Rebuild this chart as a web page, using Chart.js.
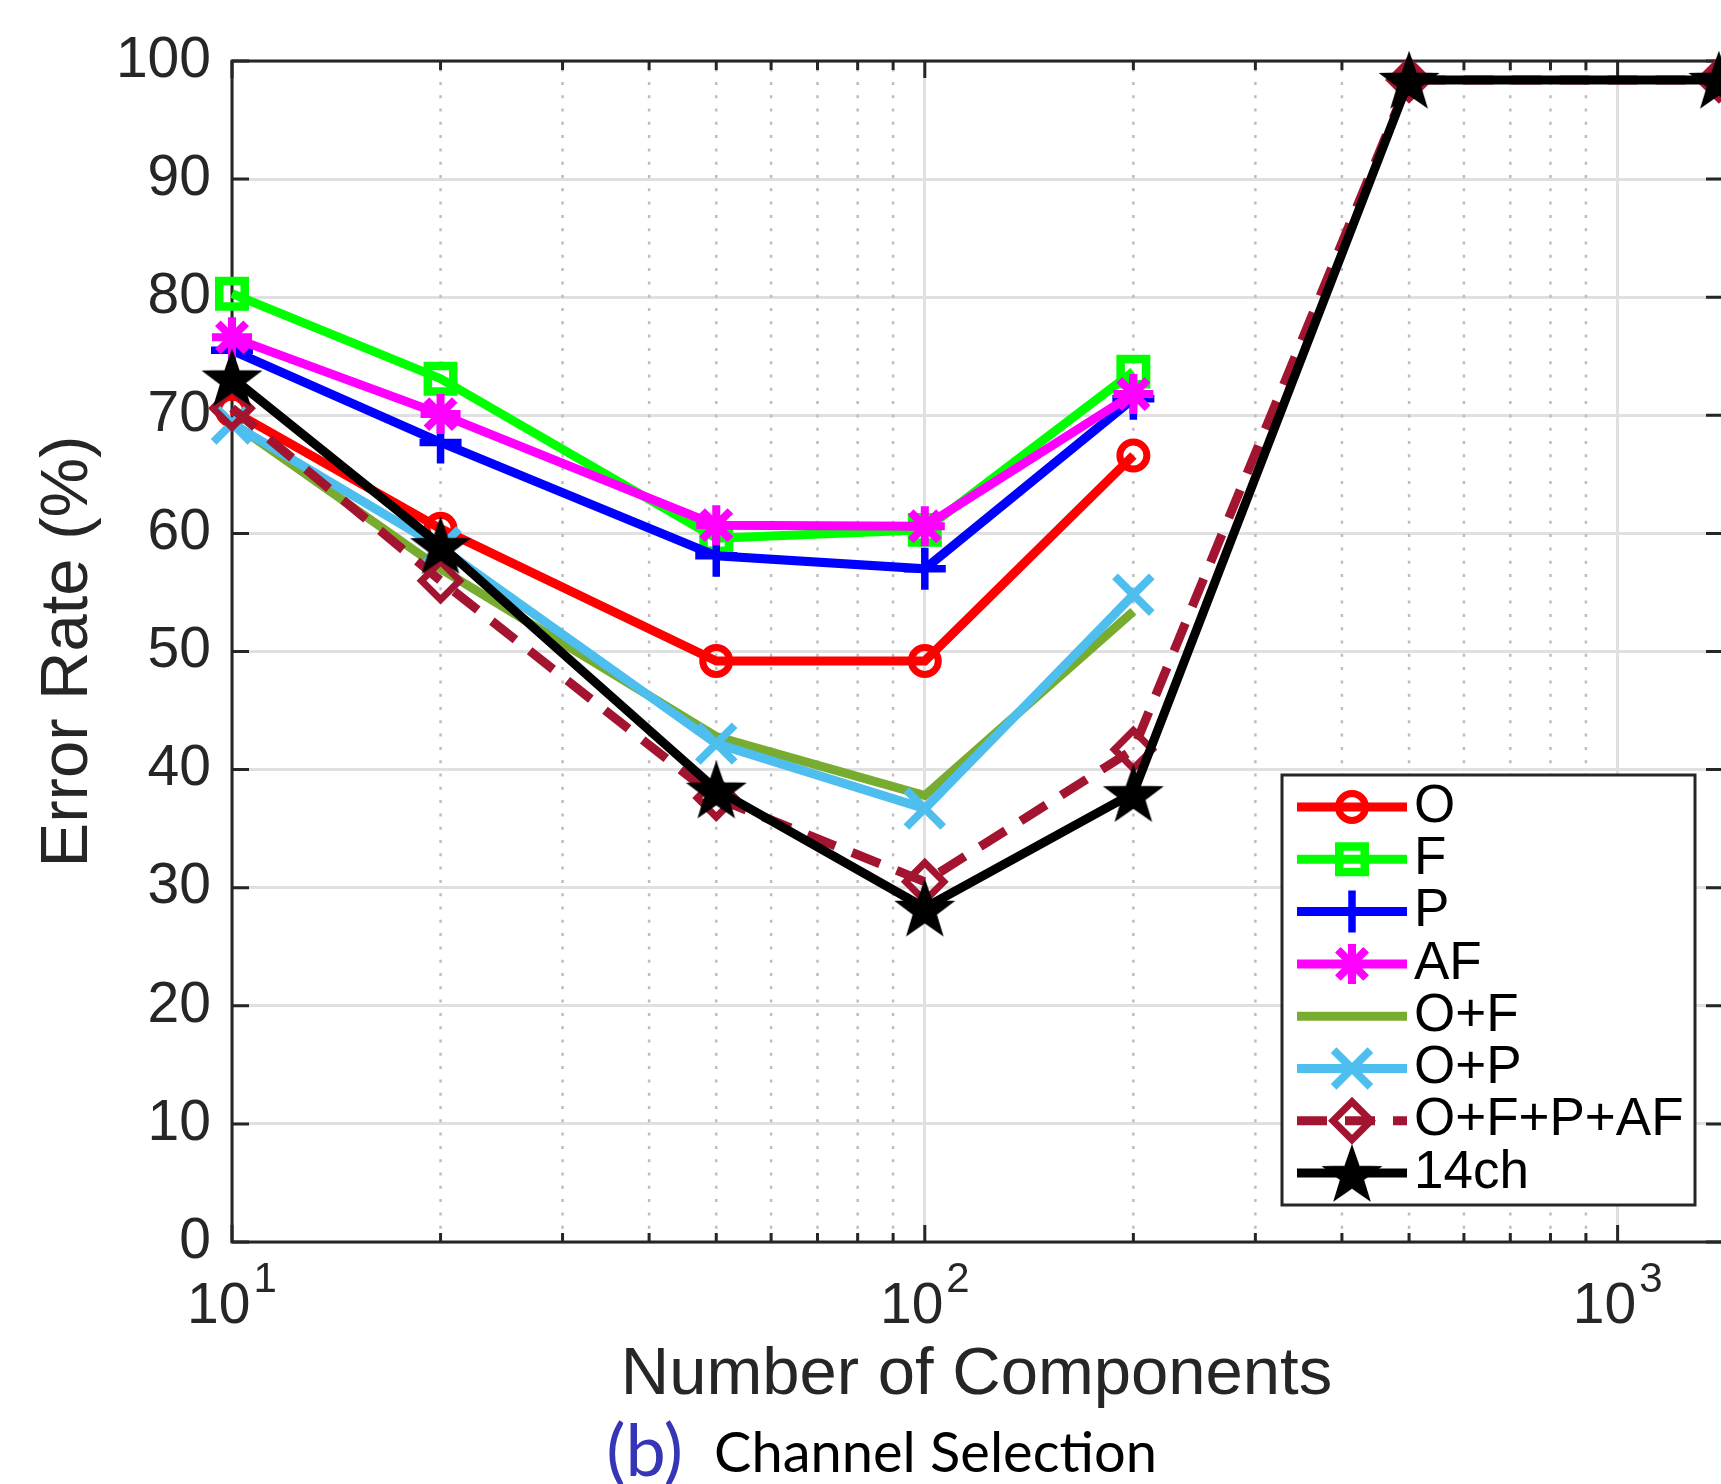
<!DOCTYPE html>
<html>
<head>
<meta charset="utf-8">
<script src="https://cdn.jsdelivr.net/npm/chart.js@4/dist/chart.umd.min.js"></script>
<style>
  html, body { margin: 0; padding: 0; background: #fff; }
  #wrap { width: 1721px; height: 1484px; }
</style>
</head>
<body>
<div id="wrap"><canvas id="errChart" width="1721" height="1484"></canvas></div>
<script>
// number of components (x) and error rates (%) per feature set
const components = [10, 20, 50, 100, 200, 500, 1400];
const seriesNames = ['O', 'F', 'P', 'AF', 'O+F', 'O+P', 'O+F+P+AF', '14ch'];
const errO    = [70.4, 60.4, 49.2, 49.2, 66.6];
const errF    = [80.3, 73.1, 59.6, 60.3, 73.7];
const errP    = [75.5, 67.7, 58.1, 57.0, 71.4];
const errAF   = [76.6, 70.1, 60.7, 60.6, 71.8];
const errOF   = [69.4, 57.0, 42.8, 37.8, 53.4];
const errOP   = [69.3, 58.8, 42.2, 36.7, 54.8];
const errAll  = [70.6, 56.0, 37.6, 30.5, 41.7, 98.4, 98.4];
const err14ch = [73.2, 59.0, 38.3, 28.3, 38.0, 98.4, 98.4];
const yTicks = [0, 10, 20, 30, 40, 50, 60, 70, 80, 90, 100];
const xMajor = [10, 100, 1000];
const xMinor = [20, 30, 40, 50, 60, 70, 80, 90, 200, 300, 400, 500, 600, 700, 800, 900];

const seriesValues = [errO, errF, errP, errAF, errOF, errOP, errAll, err14ch];

function makePentagram(R) {
  const c = document.createElement('canvas');
  const s = Math.ceil(R * 2 + 6);
  c.width = s; c.height = s;
  const g = c.getContext('2d');
  const cx = s / 2, cy = s / 2 + R * 0.1, r = R * 0.4;
  g.beginPath();
  for (let k = 0; k < 10; k++) {
    const ang = -Math.PI / 2 + k * Math.PI / 5;
    const rr = k % 2 ? r : R;
    g.lineTo(cx + rr * Math.cos(ang), cy + rr * Math.sin(ang));
  }
  g.closePath();
  g.fillStyle = '#000';
  g.fill();
  g.lineWidth = 2;
  g.strokeStyle = '#000';
  g.stroke();
  return c;
}

const seriesStyle = [
  { color: '#ff0000', point: 'circle',   r: 13.5, bw: 7 },
  { color: '#00ff00', point: 'rect',     r: 18, bw: 8.5 },
  { color: '#0000ff', point: 'cross',    r: 21, bw: 7.5 },
  { color: '#ff00ff', point: 'star',     r: 20, bw: 8 },
  { color: '#77ac30', point: 'circle',   r: 0,  bw: 0 },
  { color: '#4dbeee', point: 'crossRot', r: 26, bw: 8 },
  { color: '#a2142f', point: 'rectRot',  r: 19, bw: 7, dash: [30, 18] },
  { color: '#000000', point: makePentagram(29), r: 29, bw: 0 }
];

const datasets = seriesNames.map((name, i) => {
  const st = seriesStyle[i];
  return {
    label: name,
    data: seriesValues[i].map((v, k) => ({ x: components[k], y: v })),
    borderColor: st.color,
    backgroundColor: 'rgba(0,0,0,0)',
    borderWidth: 9,
    borderDash: st.dash || [],
    pointStyle: st.point,
    pointRadius: st.r,
    pointBorderWidth: st.bw,
    pointBorderColor: st.color,
    pointBackgroundColor: 'rgba(0,0,0,0)',
    tension: 0,
    clip: false,
    order: seriesNames.length - i
  };
});

const tickFont = { family: 'Liberation Sans', size: 57 };
const ink = '#262626';

const matlabFrame = {
  id: 'matlabFrame',
  beforeDatasetsDraw(chart) {
    const { ctx, chartArea: a, scales: { x, y } } = chart;
    ctx.save();
    // dotted minor grid
    ctx.strokeStyle = '#bdbdbd';
    ctx.lineWidth = 2.5;
    ctx.setLineDash([3, 10.3]);
    xMinor.forEach(v => {
      const px = x.getPixelForValue(v);
      ctx.beginPath();
      ctx.moveTo(px, a.bottom);
      ctx.lineTo(px, a.top);
      ctx.stroke();
    });
    ctx.setLineDash([]);
    // box
    ctx.strokeStyle = ink;
    ctx.lineWidth = 3;
    ctx.beginPath();
    ctx.moveTo(a.right + 3, a.top); ctx.lineTo(a.left, a.top);
    ctx.lineTo(a.left, a.bottom); ctx.lineTo(a.right + 3, a.bottom);
    ctx.moveTo(a.right + 2, a.top); ctx.lineTo(a.right + 2, a.bottom);
    ctx.stroke();
    // inward ticks
    ctx.beginPath();
    yTicks.forEach(v => {
      const py = y.getPixelForValue(v);
      ctx.moveTo(a.left, py); ctx.lineTo(a.left + 17, py);
      ctx.moveTo(a.right + 2, py); ctx.lineTo(a.right - 15, py);
    });
    xMajor.concat(xMinor).forEach(v => {
      const px = x.getPixelForValue(v);
      const len = xMajor.includes(v) ? 17 : 9;
      ctx.moveTo(px, a.bottom); ctx.lineTo(px, a.bottom - len);
      ctx.moveTo(px, a.top); ctx.lineTo(px, a.top + len);
    });
    ctx.stroke();
    ctx.restore();
  },
  afterDraw(chart) {
    const { ctx, scales: { x } } = chart;
    ctx.save();
    // x tick labels 10^n
    ctx.fillStyle = ink;
    ctx.textBaseline = 'alphabetic';
    ctx.textAlign = 'left';
    xMajor.forEach(v => {
      const px = x.getPixelForValue(v);
      const exp = String(Math.round(Math.log10(v)));
      ctx.font = '57px "Liberation Sans"';
      const wb = ctx.measureText('10').width;
      ctx.font = '42px "Liberation Sans"';
      const we = ctx.measureText(exp).width;
      const left = px - (wb + 3 + we) / 2;
      ctx.font = '57px "Liberation Sans"';
      ctx.fillText('10', left, 1323);
      ctx.font = '42px "Liberation Sans"';
      ctx.fillText(exp, left + wb + 3, 1292);
    });

    // legend
    const lx = 1282, ly = 775, lw = 413, lh = 430;
    ctx.fillStyle = '#fff';
    ctx.fillRect(lx, ly, lw, lh);
    ctx.strokeStyle = ink;
    ctx.lineWidth = 3;
    ctx.strokeRect(lx, ly, lw, lh);
    chart.data.datasets.forEach((ds, i) => {
      const yy = 807 + i * 52.3;
      ctx.save();
      ctx.strokeStyle = ds.borderColor;
      ctx.lineWidth = ds.borderWidth;
      ctx.setLineDash(ds.borderDash);
      ctx.beginPath();
      ctx.moveTo(1297, yy);
      ctx.lineTo(1407, yy);
      ctx.stroke();
      ctx.setLineDash([]);
      if (ds.pointRadius > 0) {
        ctx.strokeStyle = ds.pointBorderColor;
        ctx.fillStyle = ds.pointBackgroundColor;
        ctx.lineWidth = ds.pointBorderWidth;
        Chart.helpers.drawPoint(ctx, {
          pointStyle: ds.pointStyle, radius: ds.pointRadius,
          rotation: 0, borderWidth: ds.pointBorderWidth
        }, 1352, yy);
      }
      ctx.restore();
      ctx.fillStyle = '#000';
      ctx.font = '53px "Liberation Sans"';
      ctx.textBaseline = 'middle';
      ctx.fillText(ds.label, 1414, yy);
    });

    // caption
    ctx.textBaseline = 'alphabetic';
    ctx.font = '72px Lato';
    ctx.fillStyle = '#3535b5';
    ctx.textAlign = 'right';
    ctx.fillText('(b)', 683, 1476);
    ctx.textAlign = 'left';
    ctx.font = '56px Lato';
    ctx.fillStyle = '#000';
    ctx.fillText('Channel Selection', 714, 1472);
    ctx.restore();
  }
};

const config = {
  type: 'line',
  data: { datasets: datasets },
  options: {
    responsive: false,
    animation: false,
    layout: { autoPadding: false, padding: { top: 61, right: 0, left: 0, bottom: 0 } },
    plugins: {
      legend: { display: false },
      tooltip: { enabled: false }
    },
    scales: {
      x: {
        type: 'logarithmic',
        min: 10,
        max: 1410,
        afterBuildTicks: (scale) => { scale.ticks = xMajor.map(v => ({ value: v })); },
        afterFit: (scale) => { scale.height = 242; },
        ticks: { display: false },
        grid: { color: '#e0e0e0', lineWidth: 3, drawTicks: false },
        border: { display: false },
        title: {
          display: true,
          text: 'Number of Components',
          color: ink,
          font: { family: 'Liberation Sans', size: 67 },
          padding: { top: 0, bottom: 68 }
        }
      },
      y: {
        min: 0,
        max: 100,
        afterBuildTicks: (scale) => { scale.ticks = yTicks.map(v => ({ value: v })); },
        afterFit: (scale) => { scale.width = 232; },
        ticks: { color: ink, font: tickFont, padding: 21 },
        grid: { color: '#e0e0e0', lineWidth: 3, drawTicks: false },
        border: { display: false },
        title: {
          display: true,
          text: 'Error Rate (%)',
          color: ink,
          font: { family: 'Liberation Sans', size: 67 },
          padding: { top: 28, bottom: 0 }
        }
      }
    }
  },
  plugins: [matlabFrame]
};

new Chart(document.getElementById('errChart'), config);
</script>
</body>
</html>
